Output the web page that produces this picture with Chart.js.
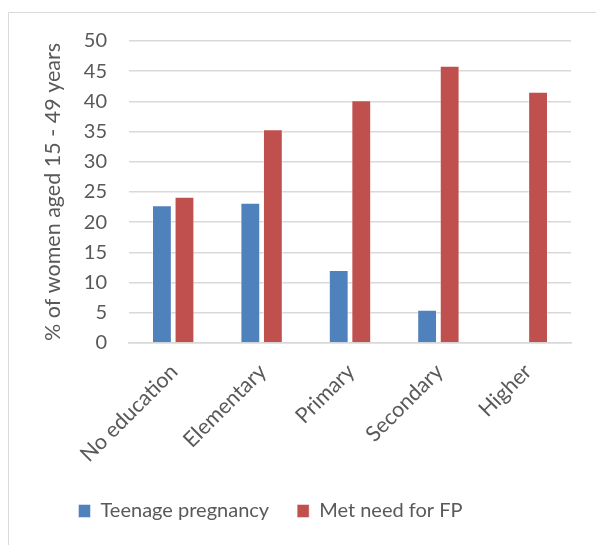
<!DOCTYPE html>
<html>
<head>
<meta charset="utf-8">
<script src="https://cdn.jsdelivr.net/npm/chart.js@4/dist/chart.umd.min.js"></script>
<style>
  html, body { margin: 0; padding: 0; background: #ffffff; }
  #wrap { position: relative; width: 596px; height: 545px; }
</style>
</head>
<body>
<div id="wrap"><canvas id="c" width="596" height="545"></canvas></div>
<script>
// Education levels along the x axis
const categories = ['No education', 'Elementary', 'Primary', 'Secondary', 'Higher'];
// Share of women (%) in each group
const teenagePregnancy = [22.8, 23.2, 12.1, 5.5, null];
const metNeedForFP = [24.2, 35.4, 40.2, 45.9, 41.6];
// Value axis
const yMin = 0, yMax = 50, yStep = 5;
const yTitle = '% of women aged 15 - 49 years';
const seriesNames = ['Teenage pregnancy', 'Met need for FP'];

const FONT = 'Lato, "Liberation Sans", sans-serif';
const TEXT = '#595959';
const GRID = '#d9d9d9';

// Thin frame along the top and left edge of the chart
const framePlugin = {
  id: 'frame',
  beforeDraw(chart) {
    const ctx = chart.ctx;
    ctx.save();
    ctx.strokeStyle = GRID;
    ctx.lineWidth = 1;
    ctx.beginPath();
    ctx.moveTo(8.5, chart.height);
    ctx.lineTo(8.5, 12.5);
    ctx.lineTo(chart.width, 12.5);
    ctx.stroke();
    ctx.restore();
  }
};

// Shift the legend so it sits centred under the whole chart frame
const legendShift = {
  id: 'legendShift',
  afterLayout(chart) {
    const lg = chart.legend;
    if (lg) { lg.left -= 35; lg.right -= 35; }
  }
};

new Chart(document.getElementById('c'), {
  type: 'bar',
  data: {
    labels: categories,
    datasets: [
      {
        label: seriesNames[0],
        data: teenagePregnancy,
        backgroundColor: '#4f81bd',
        borderColor: 'rgba(255,255,255,0.45)',
        borderWidth: 1,
        categoryPercentage: 0.51,
        barPercentage: 0.88
      },
      {
        label: seriesNames[1],
        data: metNeedForFP,
        backgroundColor: '#c0504d',
        borderColor: 'rgba(255,255,255,0.45)',
        borderWidth: 1,
        categoryPercentage: 0.51,
        barPercentage: 0.88
      }
    ]
  },
  options: {
    responsive: false,
    animation: false,
    devicePixelRatio: 1,
    layout: { padding: { top: 41, left: 40, right: 25, bottom: 14 } },
    plugins: {
      legend: {
        position: 'bottom',
        labels: {
          color: TEXT,
          font: { family: FONT, size: 20 },
          boxWidth: 12,
          boxHeight: 13,
          padding: 28
        }
      },
      tooltip: { enabled: false }
    },
    scales: {
      x: {
        grid: { display: false, drawTicks: false },
        border: { display: true, color: GRID, width: 1.5 },
        ticks: {
          color: TEXT,
          font: { family: FONT, size: 21.5 },
          minRotation: 45,
          maxRotation: 45,
          padding: 16,
          labelOffset: 1
        },
        afterFit(scale) { scale.height = 130; }
      },
      y: {
        min: yMin,
        max: yMax,
        grid: { color: GRID, lineWidth: 1.5, drawTicks: false },
        border: { display: false },
        ticks: {
          stepSize: yStep,
          color: TEXT,
          font: { family: FONT, size: 20 },
          padding: 22
        },
        title: {
          display: true,
          text: yTitle,
          color: TEXT,
          font: { family: FONT, size: 21.5 },
          padding: { top: 0, bottom: 0 }
        },
        afterFit(scale) { scale.width = 89; }
      }
    }
  },
  plugins: [framePlugin, legendShift]
});
</script>
</body>
</html>
